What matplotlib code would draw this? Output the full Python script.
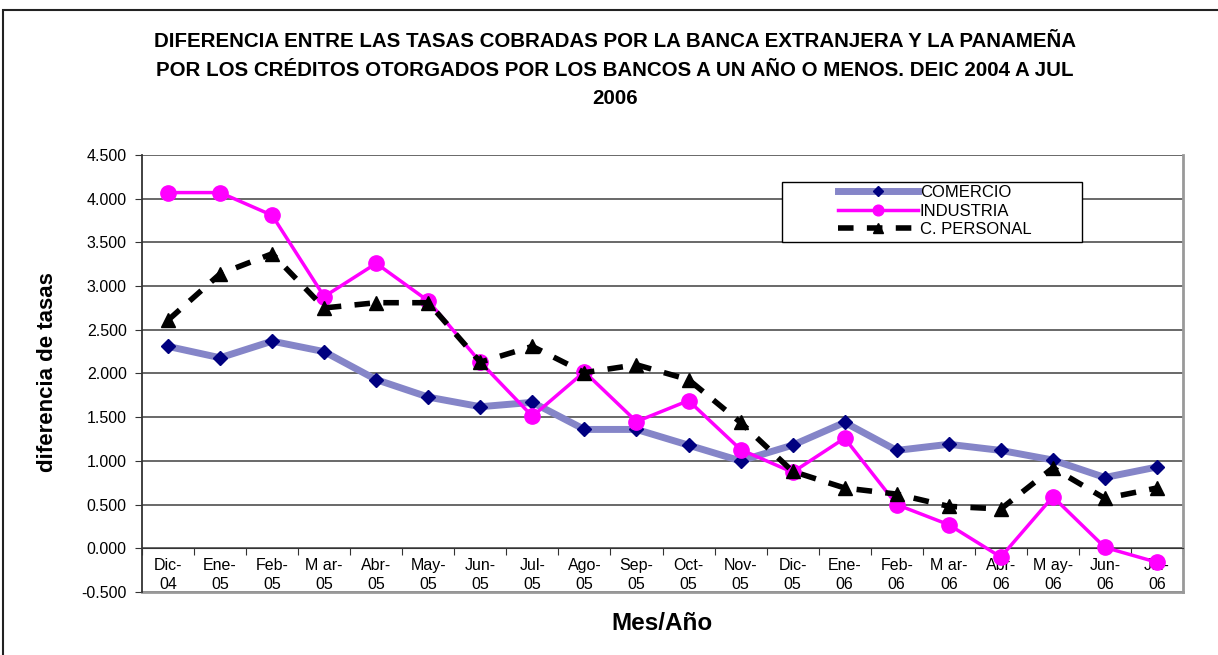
import numpy as np
import matplotlib
matplotlib.use("Agg")
import matplotlib.pyplot as plt
from matplotlib.patches import Rectangle

plt.rcParams['font.family'] = ['Liberation Sans', 'DejaVu Sans']

meses = ["Dic-\n04", "Ene-\n05", "Feb-\n05", "M ar-\n05", "Abr-\n05", "May-\n05",
         "Jun-\n05", "Jul-\n05", "Ago-\n05", "Sep-\n05", "Oct-\n05", "Nov-\n05",
         "Dic-\n05", "Ene-\n06", "Feb-\n06", "M ar-\n06", "Abr-\n06", "M ay-\n06",
         "Jun-\n06", "Jul-\n06"]

comercio = [2.31, 2.18, 2.37, 2.25, 1.93, 1.73, 1.62, 1.67, 1.36, 1.36,
            1.18, 1.00, 1.18, 1.44, 1.12, 1.19, 1.12, 1.01, 0.81, 0.93]
industria = [4.07, 4.07, 3.81, 2.88, 3.26, 2.83, 2.13, 1.51, 2.02, 1.45,
             1.69, 1.13, 0.87, 1.26, 0.50, 0.27, -0.10, 0.59, 0.01, -0.16]
personal = [2.61, 3.14, 3.37, 2.75, 2.81, 2.81, 2.13, 2.31, 2.01, 2.10,
            1.93, 1.44, 0.88, 0.69, 0.62, 0.48, 0.45, 0.92, 0.57, 0.69]

yticks = np.arange(-0.5, 4.51, 0.5)

W, H = 1218, 655
fig = plt.figure(figsize=(W / 100, H / 100), dpi=100)
ax = fig.add_axes([142/W, 1-592/H, (1183-142)/W, (592-155)/H])

x = np.arange(len(meses))

ax.plot(x, comercio, color='#8585C8', lw=5, marker='D', ms=7,
        mfc='#000080', mec='#000080', label='COMERCIO', zorder=3)
ax.plot(x, industria, color='#FF00FF', lw=2.5, marker='o', ms=11,
        mfc='#FF00FF', mec='#FF00FF', label='INDUSTRIA', zorder=4)
ax.plot(x, personal, color='black', lw=4, ls=(0, (2.8, 2.4)), marker='^', ms=10,
        mfc='black', mec='black', label='C. PERSONAL', zorder=5)

ax.set_xlim(-0.5, len(meses) - 0.5)
ax.set_ylim(-0.5, 4.5)
ax.set_yticks(yticks)
ax.set_yticklabels([f"{v:.3f}" for v in yticks], fontsize=11.5)
ax.yaxis.grid(True, color='#404040', lw=1.1)
ax.set_axisbelow(True)

# eje de categorias cruza en 0
ax.spines['bottom'].set_position(('data', 0))
ax.spines['bottom'].set_color('#333333')
ax.spines['left'].set_color('#333333')
ax.spines['left'].set_linewidth(1.3)
ax.spines['top'].set_visible(False)
ax.spines['right'].set_color('#999999')
ax.spines['right'].set_linewidth(2)
ax.axhline(-0.5, color='#999999', lw=2, clip_on=False, zorder=1)

ax.set_xticks(np.arange(-0.5, len(meses), 1))
ax.set_xticklabels([])
ax.set_xticks(x, minor=True)
ax.set_xticklabels(meses, minor=True, fontsize=11.5, linespacing=1.3)
ax.tick_params(axis='x', which='major', length=5, direction='out', color='#333333')
ax.tick_params(axis='x', which='minor', length=0, pad=7)
ax.tick_params(axis='y', length=5, color='#333333', pad=6)

fig.text(48/W, 1-372/H, 'diferencia de tasas', fontsize=16, fontweight='bold',
         rotation=90, ha='center', va='center')
fig.text(662/W, 1-623/H, 'Mes/Año', fontsize=17.5, fontweight='bold',
         ha='center', va='center')

fig.text(615/W, 1-70/H,
         "DIFERENCIA ENTRE LAS TASAS COBRADAS POR LA BANCA EXTRANJERA Y LA PANAMEÑA\n"
         "POR LOS CRÉDITOS OTORGADOS POR LOS BANCOS A UN AÑO O MENOS. DEIC 2004 A JUL\n"
         "2006", fontsize=14.8, fontweight='bold', ha='center', va='center',
         linespacing=1.62)

# caja de la leyenda
ax.add_patch(Rectangle((782/W, 1-242/H), 300/W, 60/H, transform=fig.transFigure,
                       fc='white', ec='black', lw=1, zorder=6, clip_on=False))
leg = ax.legend(loc='center left', bbox_to_anchor=(838/W, 1-211/H),
                bbox_transform=fig.transFigure, fontsize=12, frameon=False,
                handlelength=4.8, labelspacing=0.22, borderpad=0,
                handletextpad=0.1, borderaxespad=0, markerscale=0.7)
leg.set_zorder(7)

fig.patches.append(Rectangle((3/W, -0.1), 1.2, 1 - 10/H + 0.1,
                             transform=fig.transFigure, fill=False,
                             ec='#222222', lw=1.5))

fig.savefig('out.png', dpi=100)
